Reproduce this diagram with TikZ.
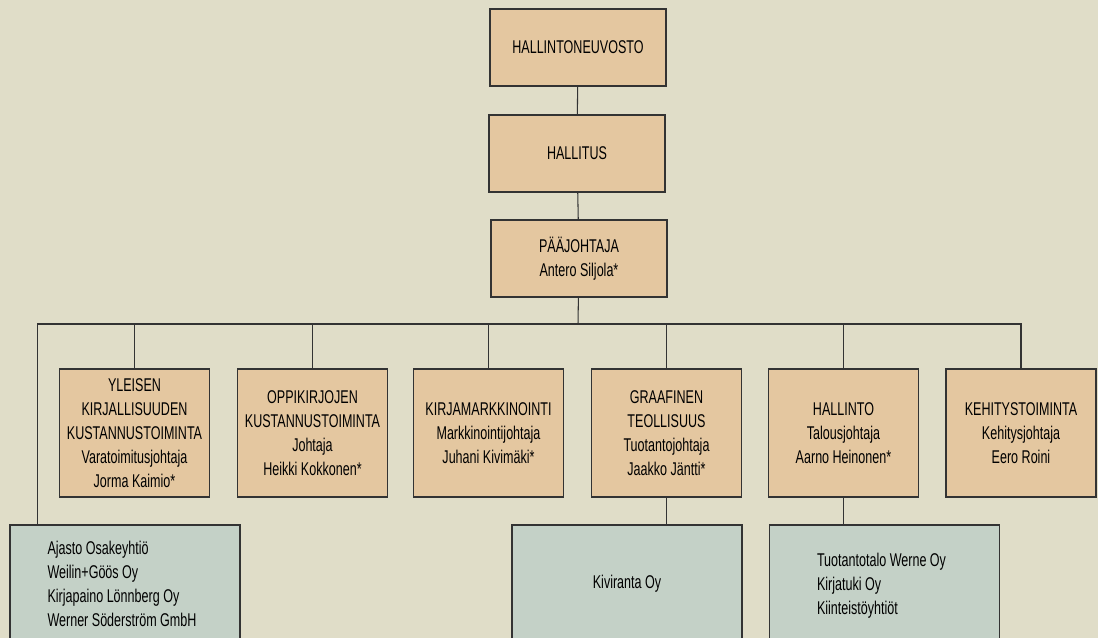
\documentclass[tikz,border=0pt]{standalone}
\usepackage{fontspec}
\setmainfont{Liberation Sans}[FakeStretch=0.68]
\usepackage{tikz}
\usetikzlibrary{positioning,calc}
\definecolor{paper}{RGB}{224,221,200}
\definecolor{tan}{RGB}{228,199,160}
\definecolor{sage}{RGB}{196,209,199}
\definecolor{rule}{RGB}{51,51,51}
\tikzstyle{unit}=[draw=rule,line width=0.7pt,fill=tan,align=center,font=\fontsize{10.5}{13.6}\selectfont]
\tikzstyle{top}=[unit,minimum width=3.52cm,minimum height=1.54cm]
\tikzstyle{dept}=[unit,minimum width=3.0cm,minimum height=2.56cm]
\tikzstyle{firm}=[unit,fill=sage,align=flush left,minimum width=4.6cm,minimum height=2.36cm]
\tikzstyle{link}=[draw=rule,line width=0.6pt]

\begin{document}
\begin{tikzpicture}[x=0.02cm,y=-0.02cm]
      \fill[paper] (0,0) rectangle (1098,638);
      \useasboundingbox (0,0) rectangle (1098,638);
      \clip (0,0) rectangle (1098,638);

      \node[top] at (578, 47.5) (hn) {HALLINTONEUVOSTO};
      \node[top] at (577, 153.5) (hs) {HALLITUS};
      \node[top] at (579, 258.5) (pj) {PÄÄJOHTAJA\\Antero Siljola*};
      \coordinate (bus) at (578, 324);

      \node[dept] at (134.5, 433) (yk) {YLEISEN\\KIRJALLISUUDEN\\KUSTANNUSTOIMINTA\\Varatoimitusjohtaja\\Jorma Kaimio*};
      \node[dept] at (312.5, 433) (ok) {OPPIKIRJOJEN\\KUSTANNUSTOIMINTA\\Johtaja\\Heikki Kokkonen*};
      \node[dept] at (488.5, 433) (km) {KIRJAMARKKINOINTI\\Markkinointijohtaja\\Juhani Kivimäki*};
      \node[dept] at (666.5, 433) (gt) {GRAAFINEN\\TEOLLISUUS\\Tuotantojohtaja\\Jaakko Jäntti*};
      \node[dept] at (843.5, 433) (hl) {HALLINTO\\Talousjohtaja\\Aarno Heinonen*};
      \node[dept] at (1021, 433) (kt) {KEHITYSTOIMINTA\\Kehitysjohtaja\\Eero Roini};

      \node[firm, text width=3.1cm] at (125, 584) (ao) {Ajasto Osakeyhtiö\\Weilin+Göös Oy\\Kirjapaino Lönnberg Oy\\Werner Söderström GmbH};
      \node[firm, align=center] at (627, 584) (kv) {Kiviranta Oy};
      \node[firm, text width=2.7cm, minimum height=2.44cm] at (884.5, 586) (tw) {Tuotantotalo Werne Oy\\Kirjatuki Oy\\Kiinteistöyhtiöt};

      \draw[link] (hn) -- (hs);
      \draw[link] (hs) -- (pj);
      \draw[link] (pj) -- (bus);
      \draw[link] ($(ao.north west)+(28,0)$) |- (bus);
      \draw[link] (yk.north) |- (bus);
      \draw[link] (ok.north) |- (bus);
      \draw[link] (km.north) |- (bus);
      \draw[link] (gt.north) |- (bus);
      \draw[link] (hl.north) |- (bus);
      \draw[link] (kt.north) |- (bus);
      \draw[link] (gt.south) -- (gt.south |- kv.north);
      \draw[link] (hl.south) -- (hl.south |- tw.north);
  	\end{tikzpicture}
\end{document}
